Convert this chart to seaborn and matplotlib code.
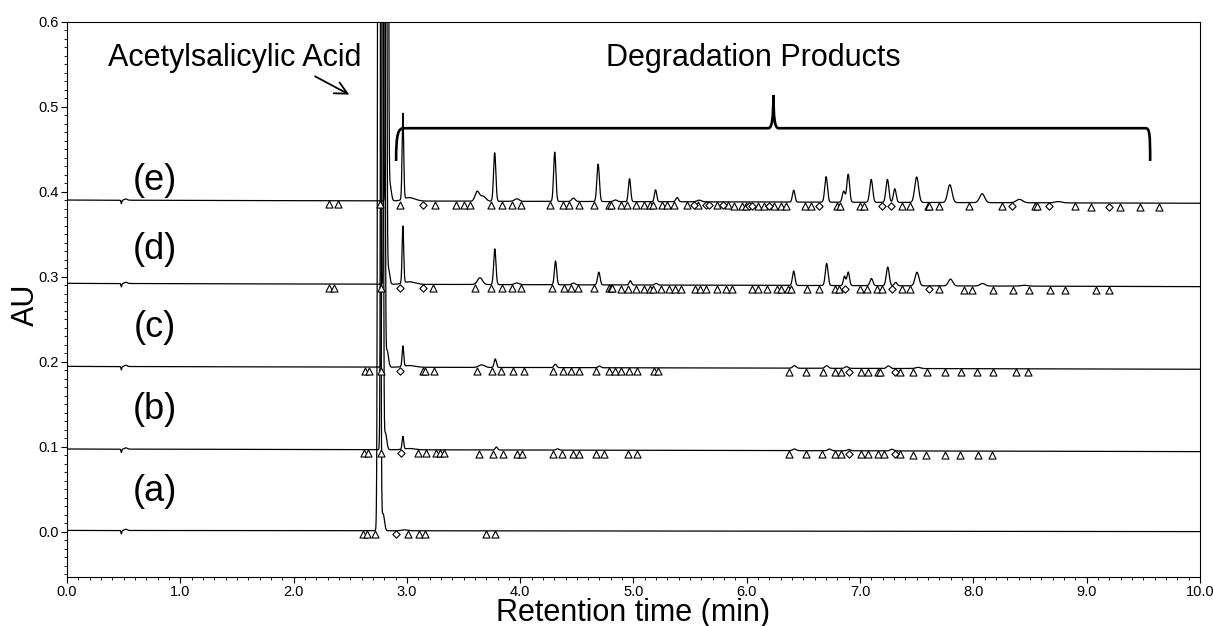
import numpy as np
import pandas as pd
import seaborn as sns
import matplotlib
matplotlib.use("Agg")
import matplotlib.pyplot as plt
from matplotlib.path import Path
from matplotlib.patches import PathPatch
from matplotlib.ticker import MultipleLocator, FormatStrFormatter

# ---- data ----
TRACES = ["(a)", "(b)", "(c)", "(d)", "(e)"]
BASE_START = [0.0018, 0.0976, 0.1948, 0.2925, 0.3905]   # AU at 0 min
BASE_END = [0.0004, 0.0945, 0.1914, 0.2886, 0.3867]     # AU at 10 min

# injection disturbance, common to every run
ART_RT = [0.48, 0.52]
ART_H = [-0.004, 0.0015]
ART_W = [0.004, 0.012]

# peak tables: retention time (min), height (AU), width (min)
RT_A = [2.755, 2.79, 2.98]
H_A = [3.0, 0.02, 0.001]
W_A = [0.008, 0.012, 0.03]

RT_B = [2.78, 2.81, 2.965, 3.02, 3.79, 4.33, 6.42, 6.73, 6.90, 7.28]
H_B = [3.0, 0.02, 0.015, 0.0015, 0.0035, 0.0015, 0.002, 0.002, 0.0015, 0.002]
W_B = [0.007, 0.012, 0.007, 0.05, 0.010, 0.012, 0.015, 0.015, 0.015, 0.015]

RT_C = [2.795, 2.825, 2.965, 3.02, 3.66, 3.78, 4.31, 4.70, 6.42, 6.705, 6.88, 7.25, 7.51]
H_C = [3.0, 0.02, 0.024, 0.002, 0.003, 0.010, 0.004, 0.002, 0.003, 0.003, 0.002, 0.003, 0.0015]
W_C = [0.007, 0.012, 0.007, 0.05, 0.025, 0.010, 0.012, 0.012, 0.015, 0.015, 0.015, 0.015, 0.02]

RT_D = [2.81, 2.835, 2.965, 3.02, 3.645, 3.776, 3.97, 4.312, 4.47, 4.694, 4.972, 5.20,
        6.414, 6.705, 6.862, 6.895, 7.10, 7.244, 7.314, 7.502, 7.798, 8.08, 8.45]
H_D = [3.0, 0.02, 0.067, 0.003, 0.008, 0.042, 0.002, 0.028, 0.002, 0.015, 0.005, 0.002,
       0.017, 0.026, 0.011, 0.016, 0.0085, 0.022, 0.004, 0.016, 0.008, 0.003, 0.001]
W_D = [0.007, 0.012, 0.007, 0.05, 0.022, 0.010, 0.02, 0.010, 0.015, 0.011, 0.010, 0.012,
       0.011, 0.012, 0.010, 0.011, 0.013, 0.013, 0.012, 0.017, 0.019, 0.022, 0.03]

RT_E = [2.825, 2.85, 2.965, 3.02, 3.62, 3.67, 3.775, 3.97, 4.305, 4.47, 4.688, 4.84, 4.965,
        5.195, 5.385, 5.58, 6.414, 6.70, 6.855, 6.895, 7.098, 7.241, 7.306, 7.499, 7.792,
        8.077, 8.406, 8.75]
H_E = [3.0, 0.02, 0.101, 0.004, 0.011, 0.006, 0.057, 0.003, 0.058, 0.004, 0.044, 0.002, 0.027,
       0.014, 0.005, 0.002, 0.014, 0.030, 0.013, 0.033, 0.027, 0.027, 0.016, 0.030, 0.021,
       0.0105, 0.004, 0.0015]
W_E = [0.007, 0.012, 0.007, 0.05, 0.018, 0.025, 0.010, 0.02, 0.010, 0.015, 0.011, 0.015, 0.010,
       0.010, 0.012, 0.02, 0.011, 0.012, 0.012, 0.012, 0.013, 0.013, 0.012, 0.017, 0.019,
       0.022, 0.028, 0.03]

# integration marks (triangles and diamonds under each baseline)
TRI_A = [2.61, 2.65, 2.72, 3.01, 3.11, 3.16, 3.70, 3.78]
DIA_A = [2.90]
TRI_B = [2.62, 2.66, 2.77, 3.10, 3.17, 3.26, 3.29, 3.33, 3.64, 3.76, 3.85, 3.97, 4.02, 4.29,
         4.37, 4.47, 4.52, 4.67, 4.74, 4.95, 5.03, 6.37, 6.52, 6.66, 6.78, 6.83, 7.01, 7.07,
         7.16, 7.21, 7.35, 7.47, 7.58, 7.75, 7.88, 8.04, 8.16]
DIA_B = [2.95, 6.90, 7.31]
TRI_C = [2.63, 2.67, 2.77, 3.14, 3.16, 3.24, 3.62, 3.75, 3.83, 3.94, 4.03, 4.29, 4.38, 4.45,
         4.52, 4.67, 4.78, 4.84, 4.89, 4.96, 5.03, 5.18, 5.22, 6.37, 6.52, 6.67, 6.78, 6.83,
         7.01, 7.07, 7.16, 7.18, 7.35, 7.47, 7.59, 7.75, 7.89, 8.03, 8.17, 8.38, 8.48]
DIA_C = [2.94, 6.90, 7.31]
TRI_D = [2.31, 2.36, 2.77, 3.23, 3.60, 3.74, 3.84, 3.93, 4.01, 4.28, 4.39, 4.45, 4.51, 4.65,
         4.78, 4.80, 4.81, 4.89, 4.95, 5.02, 5.09, 5.15, 5.17, 5.24, 5.31, 5.37, 5.42, 5.54,
         5.59, 5.64, 5.74, 5.82, 5.87, 6.05, 6.10, 6.18, 6.27, 6.30, 6.36, 6.39, 6.53, 6.64,
         6.78, 6.81, 7.00, 7.06, 7.15, 7.19, 7.37, 7.44, 7.70, 7.92, 7.99, 8.17, 8.35, 8.49,
         8.68, 8.81, 9.08, 9.20]
DIA_D = [2.94, 3.14, 6.87, 7.28, 7.61]
TRI_E = [2.31, 2.39, 2.76, 2.94, 3.25, 3.43, 3.50, 3.56, 3.74, 3.84, 3.93, 4.01, 4.26, 4.38,
         4.43, 4.52, 4.65, 4.78, 4.80, 4.89, 4.94, 5.02, 5.09, 5.15, 5.17, 5.25, 5.30, 5.36,
         5.47, 5.57, 5.74, 5.83, 5.89, 5.96, 5.99, 6.10, 6.15, 6.24, 6.30, 6.35, 6.51, 6.57,
         6.80, 6.82, 7.00, 7.03, 7.37, 7.44, 7.60, 7.61, 7.70, 7.96, 8.25, 8.54, 8.56, 8.90,
         9.04, 9.29, 9.47, 9.64]
DIA_E = [3.14, 5.53, 5.64, 5.67, 5.79, 6.02, 6.05, 6.20, 6.64, 7.19, 7.27, 8.34, 8.67, 9.20]

PEAKS = [(RT_A, H_A, W_A), (RT_B, H_B, W_B), (RT_C, H_C, W_C), (RT_D, H_D, W_D), (RT_E, H_E, W_E)]
MARKS = [(TRI_A, DIA_A), (TRI_B, DIA_B), (TRI_C, DIA_C), (TRI_D, DIA_D), (TRI_E, DIA_E)]
LABEL_Y = [0.047, 0.144, 0.241, 0.332, 0.414]


def gauss_sum(t, rts, hs, ws):
    out = np.zeros_like(t)
    for rt, h, w in zip(rts, hs, ws):
        out += h * np.exp(-0.5 * ((t - rt) / w) ** 2)
    return out


t = np.linspace(0, 10, 20001)
frames, marks = [], []
for name, b0, b1, (rts, hs, ws), (tri, dia) in zip(TRACES, BASE_START, BASE_END, PEAKS, MARKS):
    base = b0 + (b1 - b0) * t / 10
    au = base + gauss_sum(t, ART_RT, ART_H, ART_W) + gauss_sum(t, rts, hs, ws)
    frames.append(pd.DataFrame({"time": t, "AU": au, "trace": name}))
    for kind, pos in (("tri", tri), ("dia", dia)):
        pos = np.array(pos)
        marks.append(pd.DataFrame({"time": pos, "AU": np.interp(pos, t, base) - 0.0042,
                                   "kind": kind, "trace": name}))
df = pd.concat(frames, ignore_index=True)
mk = pd.concat(marks, ignore_index=True)

sns.set_style("ticks")
plt.rcParams["font.family"] = ["Liberation Sans", "DejaVu Sans"]
plt.rcParams.update({"text.color": "black", "axes.labelcolor": "black",
                     "xtick.color": "black", "ytick.color": "black"})

fig = plt.figure(figsize=(12.13, 6.26), dpi=100)
ax = fig.add_axes([0.0552, 0.0783, 0.9341, 0.8866])

sns.lineplot(data=df, x="time", y="AU", units="trace", estimator=None, sort=False,
             color="black", lw=0.9, legend=False, ax=ax)
sns.scatterplot(data=mk[mk.kind == "tri"], x="time", y="AU", marker="^", s=26,
                color="white", edgecolor="black", linewidth=0.8, legend=False, ax=ax, zorder=3)
sns.scatterplot(data=mk[mk.kind == "dia"], x="time", y="AU", marker="D", s=14,
                color="white", edgecolor="black", linewidth=0.8, legend=False, ax=ax, zorder=3)

ax.set_xlim(0, 10)
ax.set_ylim(-0.053, 0.6)
ax.xaxis.set_major_locator(MultipleLocator(1.0))
ax.xaxis.set_minor_locator(MultipleLocator(0.1))
ax.yaxis.set_major_locator(MultipleLocator(0.1))
ax.yaxis.set_minor_locator(MultipleLocator(0.01))
ax.xaxis.set_major_formatter(FormatStrFormatter("%.1f"))
ax.yaxis.set_major_formatter(FormatStrFormatter("%.1f"))
ax.set_yticks([0.0, 0.1, 0.2, 0.3, 0.4, 0.5, 0.6])
ax.tick_params(which="major", direction="out", length=4, width=0.8, labelsize=10.5, pad=2)
ax.tick_params(which="minor", direction="out", length=2, width=0.6)
for s in ax.spines.values():
    s.set_linewidth(0.8)
    s.set_color("black")

ax.set_xlabel("Retention time (min)", fontsize=22)
ax.set_ylabel("AU", fontsize=22)
ax.xaxis.set_label_coords(0.5, -0.037)
ax.yaxis.set_label_coords(-0.023, 0.49)

for name, y in zip(TRACES, LABEL_Y):
    ax.text(0.777, y, name, fontsize=26, ha="center", va="center")

ax.text(1.48, 0.5576, "Acetylsalicylic Acid", fontsize=22, ha="center", va="center")
ax.annotate("", xy=(2.513, 0.513), xytext=(2.168, 0.5376),
            arrowprops=dict(arrowstyle="->", lw=1.3, color="black", mutation_scale=22))
ax.text(6.06, 0.5576, "Degradation Products", fontsize=22, ha="center", va="center")

# curly bracket over the degradation peaks
verts = [(2.905, 0.4365), (2.905, 0.470), (2.925, 0.475), (2.975, 0.475),
         (6.19, 0.475),
         (6.225, 0.475), (6.233, 0.488), (6.235, 0.514),
         (6.237, 0.488), (6.245, 0.475), (6.28, 0.475),
         (9.52, 0.475),
         (9.555, 0.475), (9.56, 0.468), (9.56, 0.4365)]
codes = [Path.MOVETO, Path.CURVE4, Path.CURVE4, Path.CURVE4,
         Path.LINETO,
         Path.CURVE4, Path.CURVE4, Path.CURVE4,
         Path.CURVE4, Path.CURVE4, Path.CURVE4,
         Path.LINETO,
         Path.CURVE4, Path.CURVE4, Path.CURVE4]
ax.add_patch(PathPatch(Path(verts, codes), fill=False, lw=1.9, color="black", zorder=4))

fig.savefig("out.png", dpi=100)
